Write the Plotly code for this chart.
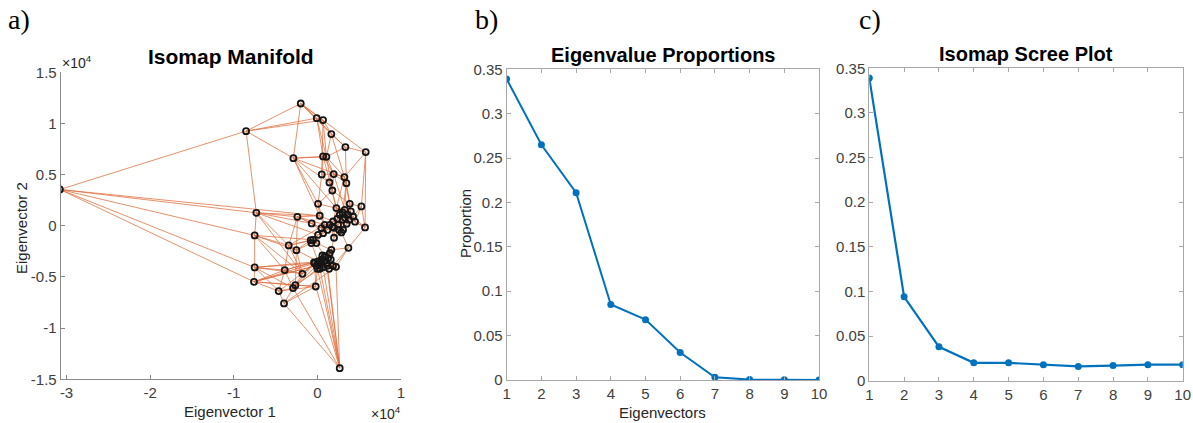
import plotly.graph_objects as go

# ---------------- data ----------------
# Panel a: Isomap embedding (units of 1e4)
node_x = [-3.08, -0.853, -0.199, -0.008, 0.068, 0.167, 0.335, 0.578, -0.287, 0.068,
          0.108, 0.052, 0.195, 0.323, 0.347, 0.144, 0.179, 0.008, 0.387, 0.526,
          -0.730, -0.239, 0.028, -0.068, 0.570, -0.750, -0.343, -0.251, 0.371, 0.199,
          -0.750, -0.758, -0.391, -0.179, -0.463, -0.263, -0.291, -0.399, -0.020, 0.223,
          0.267, 0.227, 0.327, 0.267, 0.367, 0.427, 0.307, 0.187, 0.088, 0.148,
          0.048, 0.247, 0.307, 0.287, 0.068, 0.008, -0.052, -0.072, -0.012, -0.080,
          0.167, 0.148, 0.088, 0.048, 0.008, -0.032, 0.108, 0.187, 0.068, 0.028,
          -0.040, 0.128, 0.140, 0.000, 0.400, 0.350, 0.200, 0.450, 0.100, 0.060,
          0.300, 0.240, 0.330, 0.180, 0.120, 0.380, 0.260, 0.100, 0.040, 0.120,
          -0.010, 0.160, 0.030]
node_y = [0.355, 0.925, 1.195, 1.052, 1.033, 0.896, 0.769, 0.720, 0.661, 0.678,
          0.674, 0.502, 0.505, 0.476, 0.417, 0.423, 0.345, 0.215, 0.215, 0.189,
          0.127, 0.088, 0.098, 0.023, -0.016, -0.094, -0.192, -0.238, -0.215, -0.117,
          -0.407, -0.547, -0.433, -0.469, -0.638, -0.580, -0.609, -0.759, -0.593, -0.401,
          -1.391, 0.173, 0.156, 0.107, 0.107, 0.091, 0.059, 0.042, 0.010, 0.010,
          -0.023, 0.010, -0.039, -0.065, -0.072, -0.088, -0.137, -0.169, -0.169, -0.140,
          -0.235, -0.267, -0.300, -0.332, -0.349, -0.365, -0.365, -0.391, -0.404, -0.381,
          -0.358, -0.316, -0.420, -0.420, 0.140, 0.020, -0.020, 0.040, -0.340, -0.290,
          0.130, 0.070, 0.080, -0.010, -0.040, 0.060, -0.040, -0.300, -0.360, -0.390,
          -0.390, -0.330, -0.420]
edges = [(0, 1), (0, 20), (0, 25), (0, 30), (0, 31), (0, 22),
         (1, 2), (1, 3), (1, 4), (1, 8), (1, 20), (2, 3), (2, 4), (2, 5), (2, 6), (2, 7),
         (2, 8), (3, 4), (3, 9), (3, 10), (4, 5), (4, 10), (4, 11), (5, 6), (5, 10),
         (5, 13), (6, 7), (6, 10), (6, 14), (7, 13), (7, 19), (7, 24), (8, 10), (8, 9),
         (8, 15), (8, 13), (8, 17), (8, 41), (9, 10), (9, 11), (9, 12), (10, 12), (10, 13),
         (10, 16), (11, 12), (11, 15), (12, 13), (12, 16), (13, 14), (13, 18), (14, 18),
         (14, 42), (15, 16), (16, 17), (16, 41), (17, 22), (17, 41), (17, 48), (18, 19),
         (18, 42), (18, 44), (19, 24), (19, 45), (19, 77), (20, 21), (20, 25), (20, 26),
         (20, 22), (20, 33), (21, 22), (21, 23), (21, 26), (21, 27), (22, 23), (22, 48),
         (22, 47), (23, 50), (23, 54), (24, 45), (24, 28), (24, 77), (25, 26), (25, 30),
         (25, 32), (25, 27), (26, 27), (26, 32), (26, 33), (26, 56), (27, 57), (27, 59),
         (27, 33), (27, 35), (28, 39), (28, 53), (28, 67), (29, 53), (29, 60), (29, 49),
         (30, 31), (30, 32), (30, 33), (30, 34), (30, 36), (31, 34), (31, 32), (31, 35),
         (31, 38), (32, 34), (32, 36), (32, 33), (33, 35), (33, 65), (33, 70), (34, 37),
         (34, 36), (35, 36), (35, 38), (36, 37), (37, 38), (37, 40), (38, 73), (38, 40),
         (38, 65), (39, 67), (39, 72), (39, 40), (36, 40), (40, 73), (40, 68), (40, 66),
         (41, 42), (41, 43), (41, 47), (42, 44), (43, 44), (43, 46), (44, 45), (45, 77),
         (46, 51), (46, 52), (47, 49), (47, 51), (48, 49), (48, 50), (49, 51), (50, 54),
         (51, 76), (52, 53), (52, 75), (53, 76), (54, 55), (55, 56), (55, 58), (56, 57),
         (57, 58), (58, 60), (59, 56), (59, 57), (60, 61), (61, 71), (61, 62), (62, 63),
         (62, 79), (63, 64), (64, 65), (64, 69), (65, 70), (66, 68), (66, 71), (67, 72),
         (68, 69), (68, 73), (69, 78), (70, 73), (71, 78), (72, 66), (74, 42), (74, 18),
         (75, 44), (75, 46), (76, 49), (77, 24), (79, 63), (57, 64), (58, 62), (54, 58),
         (26, 48), (21, 50), (33, 64), (35, 65), (34, 62), (32, 63), (31, 69), (36, 73),
         (28, 60), (29, 76), (11, 17), (15, 41), (12, 42), (9, 16),
         (80, 41), (80, 42), (80, 43), (80, 44), (80, 74), (81, 43), (81, 46), (81, 47),
         (81, 51), (82, 44), (82, 46), (82, 85), (82, 75), (83, 49), (83, 76), (83, 84),
         (83, 48), (84, 54), (84, 50), (84, 48), (85, 45), (85, 77), (85, 75), (86, 52),
         (86, 76), (86, 53), (86, 29), (87, 62), (87, 71), (87, 66), (87, 78), (88, 64),
         (88, 68), (88, 69), (88, 90), (89, 72), (89, 66), (89, 67), (89, 68), (90, 65),
         (90, 73), (90, 70), (91, 60), (91, 71), (91, 67), (91, 61), (92, 73), (92, 68),
         (92, 88), (20, 23), (20, 55), (25, 56), (25, 33), (30, 64), (31, 65), (32, 70),
         (34, 38), (37, 39), (31, 90), (30, 88), (35, 92), (36, 90), (27, 64), (26, 59),
         (40, 89), (40, 92), (21, 48), (8, 22), (14, 80), (13, 41), (16, 18), (12, 14),
         (41, 81), (42, 82), (43, 51), (46, 86), (47, 83), (49, 84), (53, 75), (51, 52),
         (60, 71), (61, 66), (63, 88), (64, 73), (66, 89), (67, 91), (69, 92), (62, 87)]

# Panel b and c
eig_idx = [1, 2, 3, 4, 5, 6, 7, 8, 9, 10]
eig_prop = [0.339, 0.265, 0.211, 0.085, 0.068, 0.031, 0.003, 0.0005, 0.0002, 0.0001]
scree = [0.339, 0.094, 0.038, 0.020, 0.020, 0.018, 0.016, 0.017, 0.018, 0.018]

# ---------------- figure ----------------
W, H = 1193, 423
fig = go.Figure()

ex, ey = [], []
for i, j in edges:
    ex += [node_x[i], node_x[j], None]
    ey += [node_y[i], node_y[j], None]

fig.add_trace(go.Scatter(x=ex, y=ey, mode="lines", xaxis="x", yaxis="y",
                         line=dict(color="rgba(222,110,60,0.85)", width=0.9),
                         hoverinfo="skip", showlegend=False))
fig.add_trace(go.Scatter(x=node_x, y=node_y, mode="markers", xaxis="x", yaxis="y",
                         marker=dict(symbol="circle-open", size=6, color="#151515",
                                     line=dict(width=1.8)),
                         showlegend=False))

blue = "#0072BD"
fig.add_trace(go.Scatter(x=eig_idx, y=eig_prop, mode="lines+markers", xaxis="x2", yaxis="y2",
                         line=dict(color=blue, width=2), marker=dict(size=7, color=blue),
                         showlegend=False))
fig.add_trace(go.Scatter(x=eig_idx, y=scree, mode="lines+markers", xaxis="x3", yaxis="y3",
                         line=dict(color=blue, width=2.2), marker=dict(size=7, color=blue),
                         showlegend=False))

tickfont = dict(family="Liberation Sans, Arial, sans-serif", size=15, color="#404040")

def px_dom(a, b):
    return [a / W, b / W]

def py_dom(top, bottom):
    return [1 - bottom / H, 1 - top / H]

common = dict(ticks="inside", ticklen=4, showgrid=False, zeroline=False,
              tickfont=tickfont, showline=True, automargin=False)

fig.update_layout(
    width=W, height=H,
    margin=dict(l=0, r=0, t=0, b=0, autoexpand=False),
    paper_bgcolor="white", plot_bgcolor="white",
    xaxis=dict(domain=px_dom(60.7, 401), range=[-3.07, 1.0],
               tickvals=[-3, -2, -1, 0, 1], ticktext=["-3", "-2", "-1", "0", "1"],
               linecolor="#8a8a8a", tickcolor="#8a8a8a", anchor="y", **common),
    yaxis=dict(domain=py_dom(72.3, 379.3), range=[-1.5, 1.5],
               tickvals=[-1.5, -1, -0.5, 0, 0.5, 1, 1.5],
               ticktext=["-1.5", "-1", "-0.5", "0", "0.5", "1", "1.5"],
               linecolor="#8a8a8a", tickcolor="#8a8a8a", anchor="x", **common),
    xaxis2=dict(domain=px_dom(506.7, 819), range=[1, 10], tickvals=eig_idx,
                linecolor="#a8a8a8", tickcolor="#a8a8a8", mirror="ticks", anchor="y2", **common),
    yaxis2=dict(domain=py_dom(69.3, 380), range=[0, 0.35],
                tickvals=[0, 0.05, 0.1, 0.15, 0.2, 0.25, 0.3, 0.35],
                ticktext=["0", "0.05", "0.1", "0.15", "0.2", "0.25", "0.3", "0.35"],
                linecolor="#a8a8a8", tickcolor="#a8a8a8", mirror="ticks", anchor="x2", **common),
    xaxis3=dict(domain=px_dom(869.3, 1182.7), range=[1, 10], tickvals=eig_idx,
                linecolor="#a8a8a8", tickcolor="#a8a8a8", mirror="ticks", anchor="y3", **common),
    yaxis3=dict(domain=py_dom(68.3, 380.7), range=[0, 0.35],
                tickvals=[0, 0.05, 0.1, 0.15, 0.2, 0.25, 0.3, 0.35],
                ticktext=["0", "0.05", "0.1", "0.15", "0.2", "0.25", "0.3", "0.35"],
                linecolor="#a8a8a8", tickcolor="#a8a8a8", mirror="ticks", anchor="x3", **common),
)

def ann(text, x, y, size=15, bold=False, family="Liberation Sans, Arial, sans-serif",
        color="#262626", angle=0, xanchor="center", yanchor="middle"):
    fig.add_annotation(text=f"<b>{text}</b>" if bold else text,
                       x=x / W, y=1 - y / H, xref="paper", yref="paper",
                       showarrow=False, textangle=angle, xanchor=xanchor, yanchor=yanchor,
                       font=dict(family=family, size=size, color=color))

# titles
ann("Isomap Manifold", 231, 57, size=21, bold=True, color="black")
ann("Eigenvalue Proportions", 663, 55, size=20, bold=True, color="black")
ann("Isomap Scree Plot", 1026, 54, size=20, bold=True, color="black")
# axis titles
ann("Eigenvector 1", 230, 411)
ann("Eigenvector 2", 21, 228, angle=-90)
ann("Eigenvectors", 662, 412)
ann("Proportion", 465, 224, angle=-90)
# exponent labels
ann("×10<sup>4</sup>", 60, 62, size=14, xanchor="left")
ann("×10<sup>4</sup>", 403, 413, size=14, xanchor="right")
# panel letters
serif = "Liberation Serif, Times New Roman, serif"
ann("a)", 6, 20, size=28, family=serif, color="black", xanchor="left")
ann("b)", 473, 20, size=28, family=serif, color="black", xanchor="left")
ann("c)", 857, 20, size=28, family=serif, color="black", xanchor="left")

fig.write_html("out.html", config={"displayModeBar": False},
               post_script="document.body.style.margin='0';document.body.style.overflow='hidden';")
